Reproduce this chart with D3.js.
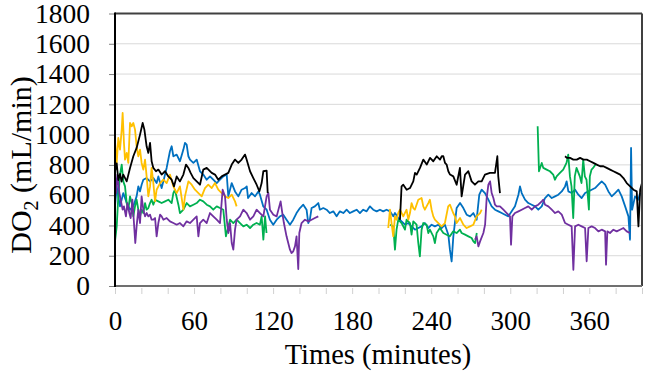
<!DOCTYPE html>
<html>
<head>
<meta charset="utf-8">
<script src="https://cdn.jsdelivr.net/npm/d3@7"></script>
<style>
  html, body { margin: 0; padding: 0; background: #fff; }
  text { font-family: "Liberation Serif", "Times New Roman", serif; fill: #000; }
</style>
</head>
<body>
<svg width="646" height="374"></svg>
<script>
// time (minutes) / DO2 (mL/min) pairs, null = gap in the record
var black = [
  [0,758],[1.3,810],[2.5,700],[3.8,740],[5,690],[6.3,736],[8.9,691],[11.4,780],[13.9,857],[16.4,912],[19,1000],[21,1077],[22.3,1033],[24,923],[25.3,879],[26.6,945],[27.8,824],[29.1,780],[31.1,758],[32.9,769],[35.4,736],[38,758],[40.5,724],[43,702],[44.8,658],[46.8,724],[49.3,691],[51.9,736],[53.9,802],[55.7,780],[57.4,747],[59.5,713],[62,691],[64.5,669],[67,769],[69.6,780],[73.4,747],[75.9,736],[78.4,702],[81,724],[83.5,736],[86,747],[88.6,802],[91.1,835],[93.6,813],[96.1,835],[98.7,868],[99.9,835],[102.5,758],[105,713],[107.5,669],[109.6,625],[111.3,680],[112.6,758],[115.1,762],[115.9,614],
  null,
  [216.3,438],[217.5,658],[218.8,669],[221.4,636],[223.9,647],[226.4,691],[227.7,747],[229,736],[231.5,780],[234,835],[236.6,802],[239.1,846],[241.6,824],[244.2,857],[246.7,835],[248,857],[249.2,857],[250.5,813],[251.7,802],[253,758],[254.3,736],[256.8,724],[259.3,669],[261.8,780],[263.1,592],[265.7,736],[268.2,758],[270.7,691],[273.2,669],[275.8,691],[278.3,691],[280.8,736],[284.6,747],[288.4,747],[290.2,857],[290.9,724],[292.2,614],
  null,
  [341.6,857],[343,846],[345.4,846],[347.9,835],[350.5,835],[353,846],[355.5,835],[358.1,835],[360.6,824],[363.1,813],[365.6,802],[368.2,791],[370.7,791],[373.2,780],[375.8,769],[378.3,758],[380.8,747],[383.4,736],[385.9,713],[388.4,680],[391,658],[393.5,636],[396,625],[397.3,394],[398.6,636],[400,680]
];

var blue = [
  [0,526],[1.3,658],[2.5,592],[3.8,526],[6.3,614],[8.9,548],[11.4,504],[13.9,526],[16.4,592],[17.7,658],[19,625],[20.2,669],[21.5,702],[24,713],[26.6,691],[29.1,713],[31.6,680],[32.9,724],[35.4,647],[36.7,691],[39.2,780],[41.7,890],[43,923],[44.3,857],[46.8,868],[49.3,824],[51.9,901],[53.1,945],[54.4,934],[55.7,857],[56.9,835],[59.5,813],[62,835],[64.5,758],[67,736],[69.6,702],[72.1,724],[74.6,702],[77.2,680],[79.7,702],[82.2,724],[84.8,736],[86,592],[88.6,680],[91.1,625],[93.6,592],[96.1,636],[98.7,647],[100,658],[101,581],[103.7,614],[106.3,592],[108.8,625],[110,603],[112.5,526],[115.1,504],[117.6,438],[120.1,405],[122.7,438],[125.2,460],[127.7,471],[130.2,438],[132.8,405],[135.3,438],[137.8,482],[140.4,515],[142.9,537],[145.4,504],[146.7,416],[147.9,438],[149.2,515],[151.7,526],[154.3,548],[155.5,504],[158.1,515],[160.6,504],[163.1,482],[165.7,493],[168.2,460],[170.7,493],[173.3,482],[175.8,504],[178.3,482],[180.8,493],[183.4,504],[185.9,482],[188.4,504],[191,493],[193.5,526],[196,504],[198.6,493],[201.1,504],[203.6,493],[206.1,504],[208.7,493],[211.2,460],[212.5,482],[215,449],[217.5,427],[220.1,405],[222.6,416],[225.1,394],[227.7,372],[230.2,383],[232.7,394],[235.2,416],[237.8,383],[240.3,405],[242.8,394],[245.4,405],[247.9,383],[250.4,405],[253,339],[254.2,240],[255.5,162],[256.8,328],[259.3,515],[261.9,548],[264.4,515],[266.9,471],[269.5,460],[272,482],[274.5,438],[276.5,603],[278.3,636],[280.8,614],[283.4,570],[285.9,526],[288.4,504],[291,493],[293.5,482],[296,471],[298.6,460],[301.1,493],[303.6,526],[306.2,603],[307.4,658],[308.7,614],[311.2,570],[313.7,548],[316.3,537],[318.8,526],[321.3,504],[323.9,526],[326.4,581],[328.9,603],[331.5,581],[334,592],[336.5,603],[339.1,625],[341.6,658],[342.8,691],[344.1,625],[346.6,614],[349.2,636],[351.7,603],[354.2,581],[356.8,614],[359.3,625],[361.8,636],[364.4,647],[366.9,669],[369.4,691],[372,669],[374.5,625],[377,592],[379.6,614],[382.1,636],[384.6,592],[387.2,526],[389.7,460],[390.9,306],[391.7,912],[392.5,504],[394.7,592],[397.2,570],[398.5,614]
];

var yellow = [
  [0,956],[1.3,813],[2.5,978],[3.8,901],[5.1,1033],[5.8,1143],[6.8,945],[7.6,835],[8.9,879],[10.1,813],[11.4,1077],[12.7,1055],[13.9,1077],[15.2,1033],[16.4,923],[17.7,857],[19,901],[20.2,813],[21.5,769],[22.8,835],[24,724],[25.3,592],[26.6,658],[27.8,780],[29.1,680],[30.4,559],[31.6,636],[34.2,680],[36.7,702],[39.2,680],[41.7,736],[44.3,658],[46.8,614],[49.3,658],[51.9,504],[53.1,592],[55.7,691],[58.2,669],[60.7,636],[63.3,614],[65.8,592],[68.3,647],[70.8,669],[73.4,647],[75.9,680],[78.4,636],[81,614],[83.5,592],[86,581],[88.6,603],[91.1,559],[92.3,526],
  null,
  [207.4,383],[208.7,504],[209.9,416],[211.2,328],[212.5,460],[213.7,438],[215,482],[216.3,504],[218.8,460],[221.3,504],[222.6,438],[223.9,482],[225.1,548],[226.4,515],[227.6,504],[230.2,570],[232.7,581],[234,526],[235.2,504],[237.8,548],[239,570],[240.3,504],[241.6,460],[242.8,438],[245.4,416],[247.9,394],[250.4,416],[252.9,526],[254.2,537],[256.7,482],[258,460],[259.3,416],[261.9,449],[264.4,405],[266.9,383],[269.5,394],[272,405],[274.5,460],[277.1,482],[278.3,504]
];

var green = [
  [0,295],[1.3,394],[2.5,592],[3.8,736],[5.1,802],[6.3,691],[7.6,658],[8.9,548],[10.1,504],[11.4,592],[12.7,548],[13.9,460],[15.2,526],[16.4,570],[17.7,504],[19,460],[20.2,504],[21.5,482],[22.8,548],[24,504],[25.3,515],[26.6,548],[27.8,570],[29.1,537],[30.4,570],[32.9,559],[35.4,548],[38,559],[40.5,570],[43,548],[44.3,614],[45.5,636],[48.1,537],[49.3,482],[51.9,504],[54.4,548],[56.9,526],[59.5,537],[62,548],[64.5,570],[67,559],[69.6,537],[72.1,526],[74.6,504],[77.2,526],[79.7,515],[82.2,504],[84.2,328],[86,394],[87.3,438],[89.8,416],[92.3,438],[94.9,416],[97.4,394],[99.9,405],[102.5,383],[105,405],[107.5,416],[110,405],[111.3,460],[112.6,306],[113.9,460],[115,350],
  null,
  [208.7,405],[211.2,394],[212.5,240],[213.7,372],[215,438],[217.5,416],[220.1,372],[221.3,438],[223.9,416],[225.1,339],[226.4,427],[228.9,405],[230.2,284],[231.4,196],[232.7,372],[234,416],[236.5,405],[237.8,350],[239,372],[241.6,328],[242.8,284],[244.1,350],[246.6,383],[249.2,350],[251.7,339],[254.2,328],[256.7,361],[259.3,350],[261.8,372],[263.1,350],[265.7,339],[268.2,328],[270.7,317],[272,295],[273.3,284],[274.6,350],
  null,
  [320.8,1055],[321.8,758],[323.9,813],[325.1,780],[327.6,769],[330.1,758],[332.6,736],[333.9,702],[335.2,724],[337.7,747],[340.2,769],[342.7,813],[344,868],[345.3,724],[346.5,658],[347.8,449],[349,724],[350.3,780],[352.8,724],[354.1,680],[355.4,835],[356.6,724],[357.9,702],[359.7,504],[360.4,724],[361.7,769],[362.9,780],[364.7,802]
];

var purple = [
  [0,746],[0.8,614],[1.8,735],[3.3,614],[4.3,570],[5.8,504],[6.8,526],[8.3,460],[9.4,548],[10.9,482],[11.9,449],[13.2,570],[14.4,416],[15.4,284],[16.4,394],[17.7,504],[19,416],[20.2,592],[21.5,504],[22.8,460],[24,482],[25.3,460],[26.6,471],[27.8,438],[29.1,438],[30.4,449],[31.6,328],[32.9,416],[34.2,471],[35.4,460],[36.7,438],[39.2,449],[41.7,427],[44.3,416],[46.8,405],[49.3,416],[51.9,394],[54.4,427],[56.9,416],[59.5,438],[62,460],[63.3,328],[64.5,416],[67,438],[69.6,416],[72.1,482],[74.6,460],[77.2,438],[79.7,416],[81.7,636],[83.5,592],[84.8,438],[86,350],[87.3,416],[88.6,284],[89.8,240],[91.1,372],[92.3,438],[94.9,460],[97.4,504],[99.9,482],[102.5,438],[105,460],[107.5,504],[110,482],[112.6,460],[115.1,592],[116.4,614],[117.6,504],[120.2,471],[122.7,460],[125.7,559],[127,482],[128.2,416],[130.2,328],[131.5,284],[132.8,240],[134,218],[135.3,229],[136.6,262],[137.8,328],[139.1,112],[139.9,350],[141.6,416],[144.2,438],[146.7,427],[149.2,438],[151.7,449],[154.3,460],
  null,
  [273.3,306],[274.5,328],[275.8,262],[277.1,295],[279.6,350],[280.9,405],[282.1,581],[283.4,669],[284.7,691],[285.9,614],[287.2,581],[288.4,537],[289.7,526],[292.2,526],[294.8,504],[297.3,482],[299.8,460],[300.6,273],[301.6,460],[303.6,482],[306.2,493],[308.7,504],[311.2,515],[313.7,526],[316.3,504],[318.8,526],[321.3,537],[323.9,559],[325.1,570],[326.4,537],[328.9,526],[331.5,504],[334,482],[336.5,493],[339.1,471],[341.6,416],[344.1,405],[346.6,394],[347.9,107],[349.2,394],[351.7,405],[354.2,394],[356.8,383],[358,163],[359.3,383],[361.8,394],[364.4,383],[366.9,361],[369.4,372],[372,361],[372.7,141],[373.7,361],[375.7,350],[378.3,372],[380.8,361],[383.3,372],[385.9,383],[388.4,361],[390.9,350]
];

var yTicks = d3.range(0, 1801, 200);
var xTicks = d3.range(0, 401, 20);
var xLabels = [0, 60, 120, 180, 240, 300, 360];

var svg = d3.select("svg");
var x = d3.scaleLinear().domain([0, 400]).range([115, 642]);
var y = d3.scaleLinear().domain([0, 1800]).range([286, 13.5]);

// gridlines
svg.append("g")
  .selectAll("line")
  .data(yTicks.filter(function(d) { return d > 0; }))
  .enter().append("line")
    .attr("x1", x(0)).attr("x2", x(400))
    .attr("y1", function(d) { return y(d); })
    .attr("y2", function(d) { return y(d); })
    .attr("stroke", "#d9d9d9").attr("stroke-width", 1);

// y axis
var yAxis = svg.append("g")
  .attr("transform", "translate(" + x(0) + ",0)")
  .call(d3.axisLeft(y).tickValues(yTicks).tickSize(6).tickPadding(19).tickFormat(d3.format("d")));
yAxis.select(".domain").remove();
yAxis.selectAll(".tick line").attr("stroke", "#808080");
yAxis.selectAll("text").attr("font-size", 27.5).attr("font-family", "Liberation Serif");

// x axis
var xAxis = svg.append("g")
  .attr("transform", "translate(0," + y(0) + ")")
  .call(d3.axisBottom(x).tickValues(xTicks).tickSize(8).tickPadding(17)
    .tickFormat(function(d) { return xLabels.indexOf(d) >= 0 ? d : ""; }));
xAxis.select(".domain").remove();
xAxis.selectAll(".tick line").attr("stroke", "#d0d0d0").attr("y1", 2);
xAxis.selectAll("text").attr("font-size", 27).attr("font-family", "Liberation Serif");

// lines
var line = d3.line()
  .defined(function(d) { return d !== null; })
  .x(function(d) { return x(d[0]); })
  .y(function(d) { return y(d[1]); });

var series = [
  { data: blue, color: "#0070c0" },
  { data: green, color: "#00b050" },
  { data: yellow, color: "#ffc000" },
  { data: purple, color: "#7030a0" },
  { data: black, color: "#000000" }
];

svg.append("g")
  .selectAll("path")
  .data(series)
  .enter().append("path")
    .attr("d", function(d) { return line(d.data); })
    .attr("fill", "none")
    .attr("stroke", function(d) { return d.color; })
    .attr("stroke-width", 1.8)
    .attr("stroke-linejoin", "round");

// plot frame
svg.append("line")
  .attr("x1", x(0)).attr("x2", x(400)).attr("y1", y(1800)).attr("y2", y(1800))
  .attr("stroke", "#404040").attr("stroke-width", 2);
svg.append("line")
  .attr("x1", x(400)).attr("x2", x(400)).attr("y1", y(1800)).attr("y2", y(0))
  .attr("stroke", "#404040").attr("stroke-width", 2);
svg.append("line")
  .attr("x1", x(0)).attr("x2", x(400)).attr("y1", y(0)).attr("y2", y(0))
  .attr("stroke", "#707070").attr("stroke-width", 2);
svg.append("line")
  .attr("x1", x(0)).attr("x2", x(0)).attr("y1", y(1800) - 1).attr("y2", y(0) + 1)
  .attr("stroke", "#000").attr("stroke-width", 2);

// axis titles
svg.append("text")
  .attr("x", 378).attr("y", 364)
  .attr("text-anchor", "middle")
  .attr("font-size", 28.5)
  .text("Times (minutes)");

var yt = svg.append("text")
  .attr("transform", "translate(31,165) rotate(-90)")
  .attr("text-anchor", "middle")
  .attr("font-size", 30);
yt.append("tspan").text("DO");
yt.append("tspan").attr("font-size", 20).attr("dy", 7).text("2");
yt.append("tspan").attr("dy", -7).text(" (mL/min)");
</script>
</body>
</html>
